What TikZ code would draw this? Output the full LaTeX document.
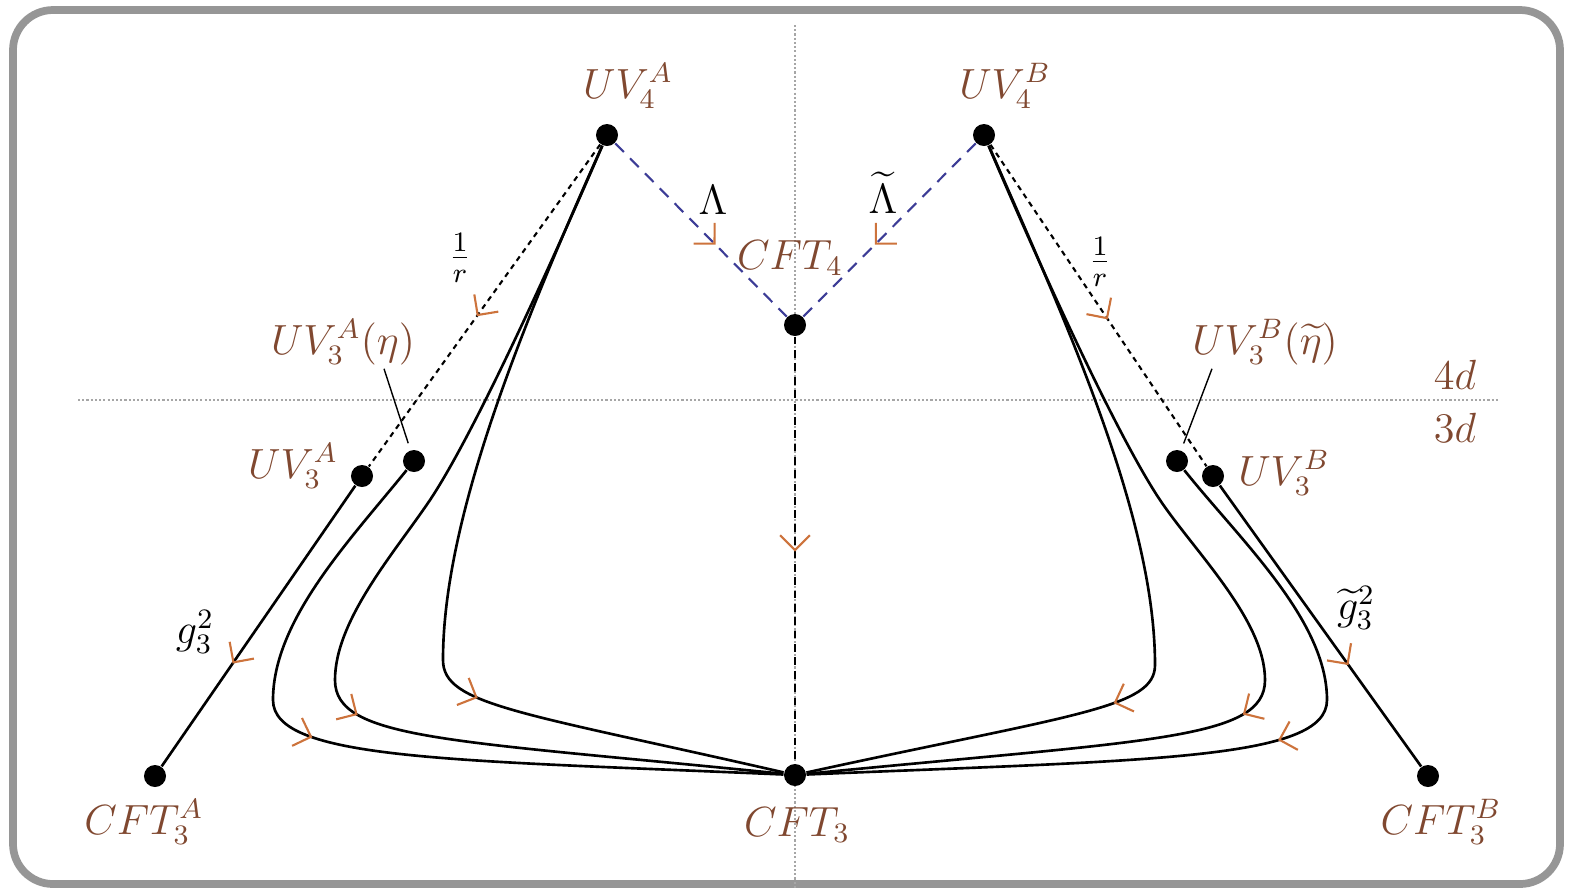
\documentclass[tikz,border=0pt]{standalone}
\usepackage{amsmath, amssymb}
\usepackage{tikz}
\usetikzlibrary{decorations.markings}

\definecolor{lblbrown}{RGB}{128,72,48}
\definecolor{tickorange}{RGB}{205,115,60}
\definecolor{lamblue}{RGB}{60,60,150}
\definecolor{framegray}{RGB}{150,150,150}

\begin{document}
\begin{tikzpicture}[x=0.01cm, y=-0.01cm,
    dot/.style={circle, fill=black, inner sep=0pt, minimum size=0.22cm},
    lbl/.style={text=lblbrown, font=\large, inner sep=1pt},
    cpl/.style={text=black, font=\large, inner sep=1pt},
    rgtick/.style={draw=tickorange, solid, line width=0.6pt},
    rgflow/.style={postaction={decorate}, decoration={markings,
        mark=at position #1 with {\draw[rgtick] (-4.2pt,4.2pt) -- (0pt,0pt) -- (-4.2pt,-4.2pt);}}},
    flowline/.style={line width=0.75pt},
    lamline/.style={draw=lamblue, line width=0.6pt, dash pattern=on 3.5pt off 2.5pt},
    rline/.style={line width=0.6pt, dash pattern=on 1.5pt off 1.3pt},
    vline/.style={line width=0.8pt, dash pattern=on 2.2pt off 1.6pt},
    axisdot/.style={draw=gray!70, line width=0.6pt, dash pattern=on 0.6pt off 0.6pt},
    pointer/.style={line width=0.4pt, shorten >=2pt}]
        \useasboundingbox (0,0) rectangle (1572,890);
        \draw[framegray, line width=2.2pt, rounded corners=0.4cm] (13,10) rectangle (1560,884);

        % axes
        \draw[axisdot] (795,25) -- (795,888);
        \draw[axisdot] (78,400) -- (1500,400);
        \node[lbl] (d4) at (1455,375) {$4d$};
        \node[lbl] (d3) at (1455,428) {$3d$};

        % fixed points
        \node[dot] (UVA4) at (607,135) {};
        \node[dot] (UVB4) at (984,135) {};
        \node[dot] (CFT4) at (795,325) {};
        \node[dot] (CFT3) at (795,775) {};
        \node[dot] (UVA3) at (362,476) {};
        \node[dot] (etaA) at (414,461) {};
        \node[dot] (etaB) at (1177,461) {};
        \node[dot] (UVB3) at (1213,476) {};
        \node[dot] (CFTA) at (155,776) {};
        \node[dot] (CFTB) at (1428,776) {};

        \node[lbl] (UVA4-l) at (628,86) {$UV_4^A$};
        \node[lbl] (UVB4-l) at (1005,86) {$UV_4^B$};
        \node[lbl] (CFT4-l) at (790,258) {$CFT_4$};
        \node[lbl] (CFT3-l) at (797,825) {$CFT_3$};
        \node[lbl] (UVA3-l) at (293,466) {$UV_3^A$};
        \node[lbl] (UVB3-l) at (1284,473) {$UV_3^B$};
        \node[lbl] (etaA-l) at (343,342) {$UV_3^A(\eta)$};
        \node[lbl] (etaB-l) at (1265,342) {$UV_3^B(\widetilde{\eta})$};
        \node[lbl] (CFTA-l) at (144,822) {$CFT_3^A$};
        \node[lbl] (CFTB-l) at (1441,822) {$CFT_3^B$};

        % couplings
        \node[cpl] (lamA) at (713,200) {$\Lambda$};
        \node[cpl] (lamB) at (883,193) {$\widetilde{\Lambda}$};
        \node[cpl] (rA) at (460,258) {$\frac{1}{r}$};
        \node[cpl] (rB) at (1100,262) {$\frac{1}{r}$};
        \node[cpl] (gA) at (195,632) {$g_3^2$};
        \node[cpl] (gB) at (1356,608) {$\widetilde{g}_3^2$};

        \draw[pointer] ([xshift=0.41cm]etaA-l.south) -- (etaA);
        \draw[pointer] ([xshift=-0.53cm]etaB-l.south) -- (etaB);

        % 4d flows
        \draw[lamline, rgflow=0.58] (UVA4) -- (CFT4); \draw[lamline, rgflow=0.58] (UVB4) -- (CFT4);
        \draw[rline, rgflow=0.53] (UVA4) -- (UVA3); \draw[rline, rgflow=0.54] (UVB4) -- (UVB3);
        \draw[vline, rgflow=0.5] (CFT4) -- (CFT3);

        % 3d flows
        \draw[flowline, rgflow=0.63] (UVA3) -- (CFTA); \draw[flowline, rgflow=0.635] (UVB3) -- (CFTB);
        \draw[flowline, rgflow=-90pt] (UVA4) .. controls (520,330) and (443,520) .. (443,660) .. controls (443,705) and (520,712) .. (CFT3);
        \draw[flowline, rgflow=-123pt] (UVA4) .. controls (540,290) and (470,440) .. (430,500) .. controls (395,552) and (335,620) .. (335,680) .. controls (335,740) and (450,740) .. (CFT3);
        \draw[flowline, rgflow=-135pt] (etaA) .. controls (350,540) and (273,620) .. (273,700) .. controls (273,760) and (450,760) .. (CFT3);
        \draw[flowline, rgflow=-90pt] (UVB4) .. controls (1070,330) and (1155,520) .. (1155,665) .. controls (1155,708) and (1075,714) .. (CFT3);
        \draw[flowline, rgflow=-126pt] (UVB4) .. controls (1050,290) and (1120,440) .. (1160,500) .. controls (1195,552) and (1265,620) .. (1265,680) .. controls (1265,740) and (1150,740) .. (CFT3);
        \draw[flowline, rgflow=-135pt] (etaB) .. controls (1240,540) and (1327,620) .. (1327,700) .. controls (1327,760) and (1150,760) .. (CFT3);
    \end{tikzpicture}
\end{document}
